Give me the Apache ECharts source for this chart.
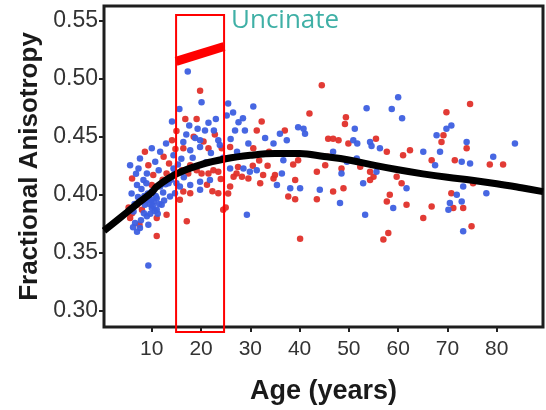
<!DOCTYPE html>
<html>
<head>
<meta charset="utf-8">
<script src="https://cdn.jsdelivr.net/npm/echarts@6/dist/echarts.min.js"></script>
<style>
html,body{margin:0;padding:0;background:#fff;}
#c{width:546px;height:410px;}
</style>
</head>
<body>
<div id="c"></div>
<script>
// ---- data ----
const xTicks = [10, 20, 30, 40, 50, 60, 70, 80];
const yTicks = [0.30, 0.35, 0.40, 0.45, 0.50, 0.55];

const redPoints = [
[44.5,0.4945],[74.6,0.4782],[42.0,0.470],[49.4,0.4668],[49.2,0.4611],[69.8,0.4711],[69.2,0.4512],[68.8,0.4455],[37.0,0.4555],[45.8,0.4483],[46.8,0.4483],[47.9,0.4469],[49.9,0.4441],[55.5,0.4483],[57.7,0.437],[62.4,0.4384],[61.0,0.434],[73.9,0.44],[78.6,0.4261],[81.3,0.4261],[71.5,0.4298],[66.8,0.4298],[45.8,0.4327],[52.3,0.4241],[54.3,0.4198],[55.0,0.4156],[54.3,0.4127],[48.5,0.4227],[45.2,0.4255],[43.5,0.4198],[39.7,0.4298],[38.7,0.4261],[35.0,0.417],[39.1,0.4127],[37.7,0.3985],[39.1,0.3962],[43.5,0.3962],[46.8,0.4028],[48.9,0.4056],[59.7,0.4156],[60.7,0.4099],[58.3,0.3999],[57.7,0.3942],[61.7,0.3913],[66.8,0.3899],[65.1,0.38],[70.8,0.4013],[71.2,0.3885],[73.2,0.3885],[75.2,0.4099],[57.0,0.3614],[58.0,0.367],[40.1,0.362],[74.9,0.3728],[34.7,0.4141],
[19.8,0.4896],[16.8,0.4654],[19.1,0.4654],[32.3,0.4631],[31.3,0.4555],[14.1,0.4469],[8.6,0.437],[12.4,0.4327],[16.4,0.44],[21.5,0.44],[24.2,0.44],[25.9,0.4412],[30.6,0.44],[9.3,0.4255],[10.3,0.417],[13.0,0.4184],[16.1,0.4212],[17.8,0.4255],[17.4,0.4184],[19.1,0.4212],[20.1,0.4184],[21.5,0.4184],[22.5,0.4212],[23.5,0.4198],[27.2,0.4184],[32.6,0.417],[26.6,0.4156],[28.3,0.4156],[29.6,0.4141],[32.0,0.4099],[16.4,0.4028],[17.8,0.4013],[10.0,0.4084],[6.0,0.4141],[8.0,0.3871],[7.0,0.3914],[5.6,0.38],[11.0,0.38],[13.0,0.3828],[11.0,0.3643],[15.7,0.3956],[24.5,0.387],[17.1,0.3771],[23.5,0.4013],[25.9,0.407],[22.3,0.403],[25.5,0.401],[25.0,0.389],
[6.0,0.384],[7.5,0.374],[5.3,0.389],[8.2,0.395],[12.2,0.413],[13.5,0.427],[14.8,0.4395],[15.0,0.455],[18.5,0.45],[20.5,0.446],[22.8,0.452],[27.5,0.424],[30.5,0.425],[31.8,0.4295],[33.5,0.425],[33.8,0.437],[24.0,0.4135],[21.2,0.4085]
];

const bluePoints = [
[60.0,0.484],[53.6,0.4745],[58.7,0.474],[60.8,0.466],[70.8,0.4597],[69.8,0.4569],[67.8,0.4512],[51.2,0.4569],[39.7,0.4583],[40.8,0.4569],[36.0,0.4526],[41.1,0.4526],[37.4,0.4469],[34.7,0.4441],[50.9,0.4469],[51.7,0.4441],[54.3,0.4455],[54.6,0.442],[56.3,0.44],[65.1,0.437],[68.5,0.437],[73.9,0.4455],[79.3,0.4327],[83.7,0.4441],[74.6,0.427],[72.9,0.4284],[67.5,0.4255],[46.8,0.437],[51.6,0.4312],[55.6,0.4198],[52.9,0.4099],[48.5,0.4184],[36.7,0.4298],[36.4,0.4184],[35.4,0.4084],[38.1,0.4056],[40.1,0.4056],[44.1,0.4042],[48.2,0.3928],[61.7,0.4056],[59.0,0.3885],[71.9,0.3999],[70.5,0.3928],[72.9,0.3942],[70.2,0.387],[73.2,0.407],[77.9,0.4013],[53.3,0.3828],[73.2,0.3685],[49.6,0.4284],
[17.3,0.5062],[20.1,0.4797],[25.5,0.4788],[30.6,0.476],[15.6,0.474],[23.0,0.4654],[25.2,0.4683],[27.6,0.4626],[28.5,0.466],[14.1,0.4631],[17.6,0.4597],[19.3,0.4569],[20.8,0.4555],[22.6,0.4555],[26.9,0.4555],[28.9,0.4555],[33.0,0.4489],[23.5,0.4469],[19.8,0.4469],[16.4,0.4455],[10.0,0.44],[7.6,0.4312],[11.7,0.437],[12.9,0.4441],[14.4,0.4341],[17.8,0.4384],[19.8,0.4412],[27.3,0.437],[29.6,0.4441],[5.6,0.4255],[7.3,0.4227],[10.7,0.4284],[9.0,0.4184],[11.4,0.4212],[14.4,0.4227],[25.9,0.4227],[28.6,0.4227],[29.9,0.4198],[31.3,0.4212],[21.8,0.4127],[19.8,0.4113],[17.8,0.4084],[19.8,0.4042],[15.7,0.407],[14.7,0.4013],[13.4,0.4099],[11.7,0.407],[8.3,0.4127],[7.0,0.4084],[10.0,0.4028],[11.0,0.397],[9.3,0.397],[8.6,0.3914],[10.0,0.3885],[11.0,0.3871],[6.3,0.3856],[6.6,0.3757],[7.6,0.3714],[9.0,0.3814],[9.3,0.3742],[29.3,0.3828],[13.7,0.3985],[12.0,0.3914],[9.3,0.339],
[8.8,0.395],[9.6,0.392],[10.4,0.394],[10.8,0.399],[9.9,0.3955],[8.4,0.384],[9.7,0.3835],[10.6,0.386],[11.5,0.392],[12.5,0.395],[7.8,0.378],[8.5,0.399],[9.2,0.401],[10.2,0.3905],[11.2,0.3835],[7.2,0.398],[6.5,0.392],[7.9,0.405],[8.9,0.41],[12.3,0.402],[12.8,0.409],[13.9,0.413],[14.6,0.418],[15.3,0.426],[16.0,0.431],[6.8,0.418],[5.9,0.401],[6.2,0.372],[7.0,0.368],
[15.0,0.410],[16.5,0.415],[18.3,0.432],[21.0,0.428],[22.0,0.436],[24.5,0.432],[23.8,0.443],[26.0,0.448],[18.8,0.449],[21.5,0.462],[26.5,0.471],[17.0,0.452]
];

const curveAge = [0.3, 5, 7, 10, 11, 15, 20, 25, 30, 35, 40, 45, 50, 55, 60, 65, 70, 75, 80, 85, 89.4];
const curveFA  = [0.369, 0.385, 0.392, 0.402, 0.407, 0.418, 0.426, 0.431, 0.434, 0.4355, 0.4355, 0.433, 0.430, 0.4255, 0.4215, 0.418, 0.415, 0.4125, 0.4095, 0.406, 0.4027];

const boxAge = [14.93, 24.67];
const boxFA = [0.2816, 0.5551];
const segAge = [14.93, 24.67];
const segFA = [0.515, 0.5278];

const tractName = 'Uncinate';
const xTitle = 'Age (years)';
const yTitle = 'Fractional Anisotropy';

// ---- chart ----
const chart = echarts.init(document.getElementById('c'), null, {renderer: 'canvas'});
const curveData = curveAge.map((a, i) => [a, curveFA[i]]);

const option = {
  animation: false,
  backgroundColor: '#fff',
  grid: {left: 104, right: 3, top: 6, bottom: 80, show: true, borderColor: '#1e1e1e', borderWidth: 3, containLabel: false},
  xAxis: {
    type: 'value', min: 0.3, max: 89.4,
    splitLine: {show: false},
    axisLine: {show: false},
    axisTick: {show: true, inside: false, length: 5, lineStyle: {color: '#222', width: 2}, customValues: xTicks},
    axisLabel: {customValues: xTicks, color: '#333', fontSize: 21, fontFamily: 'Liberation Sans, Arial, sans-serif', margin: 12},
    name: xTitle, nameLocation: 'middle', nameGap: 51,
    nameTextStyle: {fontSize: 27, fontWeight: 'bold', color: '#1a1a1a', fontFamily: 'Liberation Sans, Arial, sans-serif'}
  },
  yAxis: {
    type: 'value', min: 0.2859, max: 0.5628,
    splitLine: {show: false},
    axisLine: {show: false},
    axisTick: {show: true, inside: false, length: 5, lineStyle: {color: '#222', width: 2}, customValues: yTicks},
    axisLabel: {customValues: yTicks, color: '#333', fontSize: 23, fontFamily: 'Liberation Sans, Arial, sans-serif', margin: 6,
      formatter: v => v.toFixed(2)},
    name: yTitle, nameLocation: 'middle', nameGap: 58,
    nameTextStyle: {fontSize: 26, fontWeight: 'bold', color: '#1a1a1a', fontFamily: 'Liberation Sans, Arial, sans-serif'}
  },
  graphic: [{
    type: 'text', left: 231, top: 8,
    style: {text: tractName, fill: '#3fb0a6', fontSize: 26, fontFamily: 'Open Sans, sans-serif'}
  }],
  series: [
    {type: 'scatter', data: redPoints, symbolSize: 6.5, itemStyle: {color: '#e0302a', opacity: 0.95}, z: 2},
    {type: 'scatter', data: bluePoints, symbolSize: 6.5, itemStyle: {color: '#3d5fe0', opacity: 0.95}, z: 3},
    {type: 'line', data: curveData, smooth: 0.4, showSymbol: false, symbol: 'none',
      lineStyle: {color: '#000', width: 7}, z: 5},
    {type: 'custom', clip: false, z: 6,
      data: [[boxAge[0], boxFA[0], boxAge[1], boxFA[1]]],
      renderItem: (params, api) => {
        const p1 = api.coord([api.value(0), api.value(3)]);
        const p2 = api.coord([api.value(2), api.value(1)]);
        const s1 = api.coord([segAge[0], segFA[0]]);
        const s2 = api.coord([segAge[1], segFA[1]]);
        return {type: 'group', children: [
          {type: 'rect', shape: {x: p1[0], y: p1[1], width: p2[0]-p1[0], height: p2[1]-p1[1]},
            style: {fill: null, stroke: '#ff0000', lineWidth: 2}},
          {type: 'line', shape: {x1: s1[0], y1: s1[1], x2: s2[0], y2: s2[1]},
            style: {stroke: '#ff0000', lineWidth: 9, lineCap: 'butt'}}
        ]};
      }
    }
  ]
};
chart.setOption(option);
</script>
</body>
</html>
